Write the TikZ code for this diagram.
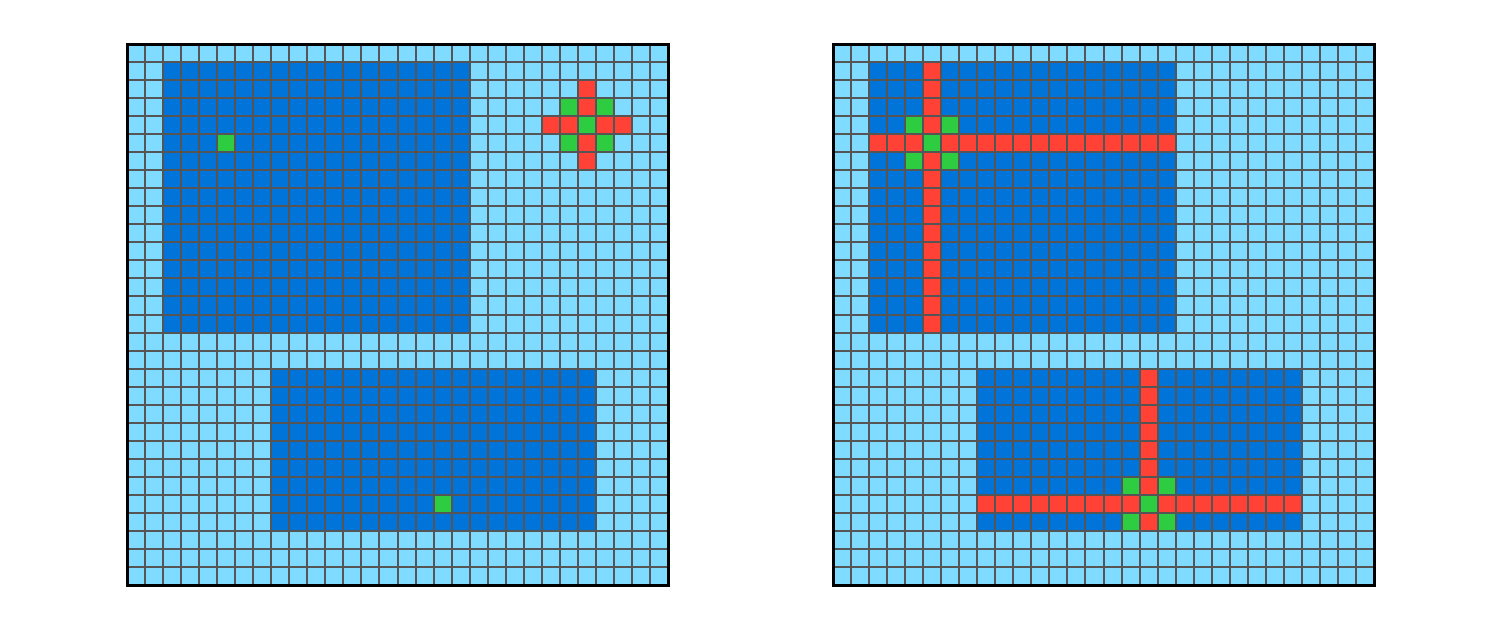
\documentclass[tikz,border=0pt]{standalone}
\definecolor{lightc}{HTML}{7FDBFF}
\definecolor{darkc}{HTML}{0074D9}
\definecolor{redc}{HTML}{FF4136}
\definecolor{greenc}{HTML}{2ECC40}
\definecolor{gridc}{HTML}{555555}
\tikzset{
  gridline/.style={draw=gridc, line width=2pt},
  borderline/.style={draw=black, line width=3pt},
}
\newcommand{\basegrid}{%
  \fill[lightc] (0,0) rectangle (30,30);
  \fill[darkc] (2,1) rectangle (19,16);
  \fill[darkc] (8,18) rectangle (26,27);
}
\newcommand{\gridlines}{%
  \foreach \i in {1,...,29} {
    \draw[gridline] (\i,0) -- (\i,30);
    \draw[gridline] (0,\i) -- (30,\i);
  }
  \draw[borderline] (0,0) rectangle (30,30);
}
\begin{document}
\begin{tikzpicture}[x=1pt,y=-1pt]
\useasboundingbox (0,0) rectangle (1500,629);
% left grid
\begin{scope}[xshift=127pt, yshift=-44pt, x=18.0333pt, y=-18.0333pt]
  \basegrid
  \foreach \c/\r in {25/2,25/3,23/4,24/4,26/4,27/4,25/5,25/6}
    \fill[redc] (\c,\r) rectangle ++(1,1);
  \foreach \c/\r in {5/5,17/25,24/3,26/3,25/4,24/5,26/5}
    \fill[greenc] (\c,\r) rectangle ++(1,1);
  \gridlines
\end{scope}
% right grid
\begin{scope}[xshift=833pt, yshift=-44pt, x=18.0333pt, y=-18.0333pt]
  \basegrid
  \fill[redc] (5,1) rectangle (6,16);
  \fill[redc] (2,5) rectangle (19,6);
  \fill[redc] (17,18) rectangle (18,27);
  \fill[redc] (8,25) rectangle (26,26);
  \foreach \c/\r in {5/5,4/4,6/4,4/6,6/6,17/25,16/24,18/24,16/26,18/26}
    \fill[greenc] (\c,\r) rectangle ++(1,1);
  \gridlines
\end{scope}
\end{tikzpicture}
\end{document}
